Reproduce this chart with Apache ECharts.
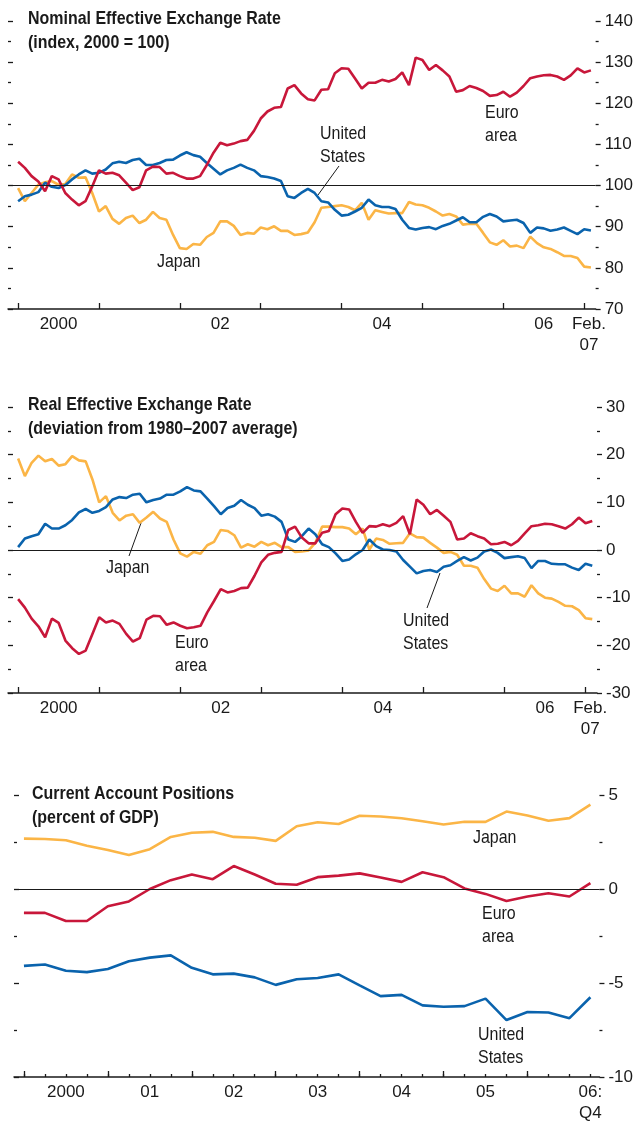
<!DOCTYPE html>
<html>
<head>
<meta charset="utf-8">
<script src="https://cdn.jsdelivr.net/npm/echarts@6/dist/echarts.min.js"></script>
<style>
  html, body { margin: 0; padding: 0; background: #ffffff; }
  #chart { width: 636px; height: 1124px; }
</style>
</head>
<body>
<div id="chart"></div>
<script>
// monthly data, Jan 2000 .. Feb 2007 (index 0 = Jan 2000)
const neerEuro = [105.8,104.3,102.3,101,98.6,102.3,101.5,98.2,96.6,95.2,96.2,99.8,
  103.7,102.9,103.1,102.5,100.7,98.9,99.6,103.7,104.6,104.5,102.9,103.1,
  102.3,101.7,101.7,102.3,105,108,110.4,109.8,110.2,110.8,111.1,113.3,
  116.3,118,118.9,119.1,123.6,124.4,122.4,121,120.7,123.3,123.4,127.3,
  128.5,128.4,126,123.6,125,125,125.7,125.3,125.9,127.5,124.4,131.1,
  130.5,128.1,129.3,128,126.5,122.8,123.2,124.2,123.7,123,121.8,122,
  122.8,121.6,122.6,124.2,126.1,126.5,126.8,126.9,126.5,125.7,126.8,128.5,
  127.5,128];
const neerUS = [96.2,97.4,97.8,98.4,100.7,99.7,99.4,100.1,101.5,102.7,103.7,102.9,
  103.1,103.9,105.4,105.8,105.5,106.2,106.5,105,105,105.5,106.2,106.3,
  107.3,108.1,107.4,107,105.5,104.1,102.7,103.7,104.3,105.1,104.3,103.7,
  102.3,102.1,101.7,101.1,97.4,97,98.2,99.2,98.2,96.2,95.9,94.1,
  92.7,92.9,93.7,94.6,96.6,95.2,94.8,94.8,94.3,91.7,89.7,89.3,
  89.7,89.9,89.4,90.2,90.7,91.5,92.3,91.1,91.1,92.4,93.1,92.5,
  91.3,91.5,91.7,90.9,88.5,89.8,89.6,89,89.3,89.8,89,88.2,
  89.4,89.1];
const neerJapan = [99.4,96.2,98.2,100.2,100.8,101.1,100.2,100.4,102.7,101.9,102,98.2,
  93.7,95,91.9,90.7,92.1,92.7,90.9,91.7,93.6,92.1,91.7,88,
  84.8,84.6,85.8,85.6,87.5,88.5,91.3,91.3,90.2,88,88.5,88.3,
  89.8,89.4,90.1,89,89,88,88.2,88.6,91.1,94.6,94.8,95,
  95.2,94.8,94,95.8,91.7,94,93.6,93.2,93.3,93.3,96,95.4,
  95.2,94.6,93.7,92.7,93.1,92.5,90.5,90.7,90.7,88.5,86.2,85.6,
  86.7,85.2,85.4,84.8,87.6,86,85,84.6,83.8,82.9,82.9,82.4,
  80.3,80.1];

const reerEuro = [-10.3,-12.1,-14.4,-16,-18.3,-14.4,-15.3,-19,-20.6,-21.8,-21.1,-17.6,
  -14.1,-15.2,-14.8,-15.5,-17.6,-19.2,-18.5,-14.6,-13.8,-13.9,-15.7,-15.2,
  -15.9,-16.4,-16.2,-15.9,-13.1,-10.7,-8.2,-8.9,-8.6,-8,-7.9,-5.4,
  -2.6,-1,-0.6,-0.4,4.2,4.9,2.6,1.4,1.4,3.6,4,7.5,
  8.7,8.5,5.9,3.6,5,4.9,5.4,5,5.7,7.1,3.3,10.6,
  9.5,7.5,8.4,7.2,5.9,2.2,2.4,3.5,2.9,2.4,1.2,1.3,
  1.7,1,1.9,3.5,5,5.2,5.5,5.4,5,4.5,5.4,6.8,
  5.6,6.1];
const reerUS = [0.6,2.4,2.9,3.3,5.5,4.5,4.5,5.2,6.3,7.9,8.6,7.8,
  8.2,9,10.6,11.1,10.9,11.6,11.8,10,10.5,10.8,11.6,11.6,
  12.3,13.2,12.5,12.3,10.8,9.2,7.5,8.8,9.3,10.5,9.5,8.8,
  7.2,7.5,7,5.9,2.2,1.7,2.9,4.5,3.3,1.2,0.6,-0.7,
  -2.3,-2,-0.9,0,2.2,0.8,0.1,0,-0.3,-2.1,-3.5,-4.9,
  -4.4,-4.2,-4.6,-3.5,-3.2,-2.3,-1.5,-2.2,-1.6,-0.3,0.1,-0.6,
  -1.7,-1.5,-1.3,-1.7,-3.8,-2.3,-2.3,-2.9,-3,-3,-3.7,-4.2,
  -2.9,-3.3];
const reerJapan = [19.2,15.5,18.3,19.8,18.6,19.1,17.7,18,19.7,18.8,18.6,14.8,
  10,11.3,7.8,6.2,7.2,7.5,5.7,6.8,8,6.6,5.9,2.2,
  -0.7,-1.4,-0.4,-0.8,1,1.7,4.2,4,3.1,0.5,1.2,0.7,
  1.7,1,1.5,0.6,0.6,-0.4,-0.3,-0.1,1.5,4.9,4.9,4.8,
  4.8,4.5,3.3,4.5,0.1,2.4,2.1,1.3,1.4,1.5,3.5,2.7,
  2.6,1.5,0.5,-0.6,-0.4,-1,-3.3,-3.3,-3.7,-6.1,-8.1,-8.6,
  -7.5,-9.1,-9.1,-9.8,-7.4,-9.1,-10,-10.2,-10.9,-11.7,-11.8,-12.6,
  -14.3,-14.5];

// quarterly data, 2000:Q1 .. 2006:Q4 (index 0 = 2000:Q1)
const caJapan = [2.68,2.66,2.59,2.3,2.07,1.81,2.12,2.77,2.99,3.04,2.77,2.73,2.56,3.34,
  3.55,3.46,3.9,3.86,3.76,3.6,3.43,3.58,3.57,4.12,3.91,3.63,3.77,4.49];
const caEuro = [-1.27,-1.27,-1.7,-1.7,-0.92,-0.66,0,0.47,0.77,0.52,1.22,0.77,0.28,0.23,
  0.63,0.71,0.83,0.61,0.38,0.89,0.63,0.03,-0.26,-0.64,-0.4,-0.23,-0.4,0.31];
const caUS = [-4.09,-4.02,-4.35,-4.42,-4.26,-3.84,-3.65,-3.53,-4.19,-4.54,-4.5,-4.7,-5.1,-4.8,
  -4.73,-4.54,-5.13,-5.7,-5.63,-6.19,-6.26,-6.23,-5.83,-6.97,-6.54,-6.57,-6.87,-5.76];

// tick marks and labels on the time axes
const monthTicks = [0, 12, 24, 36, 48, 60, 72, 84];
const monthLabelAt = [6, 30, 54, 78, 84.7];
const monthLabelText = ['2000', '02', '04', '06', 'Feb.\n07'];
const quarterTicks = [];
for (let i = 0; i < 28; i++) quarterTicks.push(i);
const yearTicksQ = [0, 4, 8, 12, 16, 20, 24];
const quarterLabelAt = [2, 6, 10, 14, 18, 22, 27];
const quarterLabelText = ['2000', '01', '02', '03', '04', '05', '06:\nQ4'];

const FONT = "'Liberation Sans', Arial, sans-serif";
const RED = '#c8173a';
const BLUE = '#0a63ad';
const YELLOW = '#fbb546';
const INK = '#1a1a1a';
const NARROW = 0.84; // horizontal squeeze to mimic a condensed face

const toPairs = (arr) => arr.map((v, i) => [i, v]);

var myChart = echarts.init(document.getElementById('chart'));

const timeAxis = (grid, min, max, ticks, labelAt, labelText, tickLen) => ({
  type: 'value',
  gridIndex: grid,
  position: 'bottom',
  min: min,
  max: max,
  splitLine: { show: false },
  axisLine: { show: true, onZero: false, lineStyle: { color: INK, width: 1.5 } },
  axisTick: { show: true, inside: true, length: tickLen, customValues: ticks, lineStyle: { color: INK, width: 1.3 } },
  axisLabel: {
    show: labelAt.length > 0,
    customValues: labelAt,
    margin: 5,
    color: INK,
    fontFamily: FONT,
    fontSize: 17,
    lineHeight: 21,
    formatter: (v) => {
      const k = labelAt.indexOf(v);
      return k >= 0 ? labelText[k] : '';
    },
  },
});

const valueAxis = (grid, side, min, max, interval, minorSplit) => ({
  type: 'value',
  gridIndex: grid,
  position: side,
  min: min,
  max: max,
  interval: interval,
  splitLine: { show: false },
  axisLine: { show: false, onZero: false },
  axisTick: { show: true, inside: side === 'left', length: 5, lineStyle: { color: INK, width: 1.3 } },
  minorTick: { show: true, splitNumber: minorSplit, length: 3, lineStyle: { color: INK, width: 1.3 } },
  axisLabel: {
    show: side === 'right',
    margin: 9,
    color: INK,
    fontFamily: FONT,
    fontSize: 17,
  },
});

const lineSeries = (name, x, y, data, color) => ({
  name: name,
  type: 'line',
  xAxisIndex: x,
  yAxisIndex: y,
  data: toPairs(data),
  showSymbol: false,
  symbol: 'none',
  color: color,
  lineStyle: { width: 2.6, color: color },
  z: 3,
  silent: true,
});

const refLine = (x, y, value) => ({
  type: 'line',
  xAxisIndex: x,
  yAxisIndex: y,
  data: [],
  z: 1,
  silent: true,
  markLine: {
    silent: true,
    symbol: 'none',
    label: { show: false },
    lineStyle: { color: INK, width: 1, type: 'solid' },
    data: [{ yAxis: value }],
  },
});

// annotation text: one element per line, squeezed horizontally
const txt = (x, y, text, size, weight) => ({
  type: 'text',
  x: x,
  y: y,
  scaleX: NARROW,
  style: {
    text: text,
    font: (weight || 'normal') + ' ' + size + 'px ' + FONT,
    fill: INK,
    verticalAlign: 'middle',
  },
});
const ann = (x, y, lines) => lines.map((t, i) => txt(x, y + i * 23, t, 19));
const heading = (x, y, lines) => lines.map((t, i) => txt(x, y + i * 24, t, 19, 'bold'));
const leader = (x1, y1, x2, y2) => ({
  type: 'line',
  shape: { x1: x1, y1: y1, x2: x2, y2: y2 },
  style: { stroke: INK, lineWidth: 1 },
});

var option = {
  animation: false,
  grid: [
    { left: 8, top: 21, width: 589, height: 288 },
    { left: 8, top: 407, width: 589, height: 286 },
    { left: 14, top: 795, width: 589, height: 287 },
  ],
  xAxis: [
    timeAxis(0, -1.5, 85.7, monthTicks, monthLabelAt, monthLabelText, 6),
    timeAxis(1, -1.5, 85.7, monthTicks, monthLabelAt, monthLabelText, 6),
    timeAxis(2, -0.474, 27.43, quarterTicks, quarterLabelAt, quarterLabelText, 3),
    Object.assign(timeAxis(2, -0.474, 27.43, yearTicksQ, [], [], 6), { axisLine: { show: false, onZero: false } }),
  ],
  yAxis: [
    valueAxis(0, 'left', 70, 140, 10, 2),
    valueAxis(0, 'right', 70, 140, 10, 2),
    valueAxis(1, 'left', -30, 30, 10, 2),
    valueAxis(1, 'right', -30, 30, 10, 2),
    valueAxis(2, 'left', -10, 5, 5, 2),
    valueAxis(2, 'right', -10, 5, 5, 2),
  ],
  series: [
    refLine(0, 0, 100),
    lineSeries('Japan', 0, 0, neerJapan, YELLOW),
    lineSeries('United States', 0, 0, neerUS, BLUE),
    lineSeries('Euro area', 0, 0, neerEuro, RED),
    refLine(1, 2, 0),
    lineSeries('Japan', 1, 2, reerJapan, YELLOW),
    lineSeries('United States', 1, 2, reerUS, BLUE),
    lineSeries('Euro area', 1, 2, reerEuro, RED),
    refLine(2, 4, 0),
    lineSeries('Japan', 2, 4, caJapan, YELLOW),
    lineSeries('Euro area', 2, 4, caEuro, RED),
    lineSeries('United States', 2, 4, caUS, BLUE),
  ],
  graphic: [].concat(
    heading(28, 19, ['Nominal Effective Exchange Rate', '(index, 2000 = 100)']),
    heading(28, 405, ['Real Effective Exchange Rate', '(deviation from 1980\u20132007 average)']),
    heading(32, 794, ['Current Account Positions', '(percent of GDP)']),
    ann(320, 134, ['United', 'States']),
    [leader(339, 166, 318, 195)],
    ann(485, 113, ['Euro', 'area']),
    ann(157, 262, ['Japan']),
    ann(106, 568, ['Japan']),
    [leader(129, 556, 141, 523)],
    ann(175, 643, ['Euro', 'area']),
    ann(403, 621, ['United', 'States']),
    [leader(427, 608, 440, 573)],
    ann(473, 838, ['Japan']),
    ann(482, 914, ['Euro', 'area']),
    ann(478, 1035, ['United', 'States'])
  ),
};
myChart.setOption(option);
</script>
</body>
</html>
